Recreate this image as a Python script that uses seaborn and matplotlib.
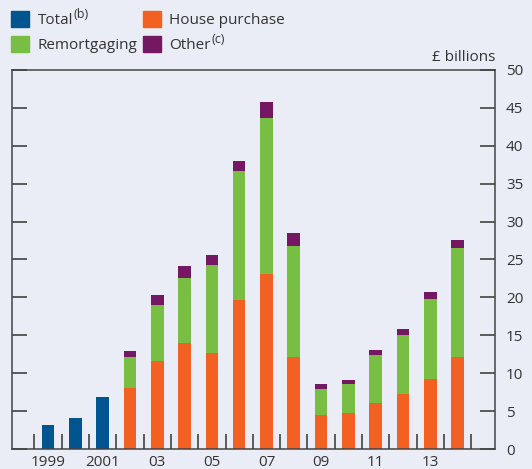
import pandas as pd
import matplotlib.pyplot as plt
import seaborn as sns
from matplotlib.patches import Patch

# Data, £ billions
total_years = [1999, 2000, 2001]
total_values = [3.2, 4.1, 6.9]

years = [2002, 2003, 2004, 2005, 2006, 2007, 2008, 2009, 2010, 2011, 2012, 2013, 2014]
house_purchase = [8.0, 11.6, 14.0, 12.6, 19.6, 23.1, 12.1, 4.5, 4.7, 6.1, 7.3, 9.2, 12.1]
remortgaging = [4.1, 7.4, 8.6, 11.7, 17.1, 20.6, 14.7, 3.4, 3.9, 6.3, 7.7, 10.6, 14.4]
other = [0.8, 1.3, 1.5, 1.3, 1.3, 2.1, 1.7, 0.7, 0.5, 0.7, 0.8, 0.9, 1.0]

tick_labels = ['1999', '2001', '03', '05', '07', '09', '11', '13']
label_years = [1999, 2001, 2003, 2005, 2007, 2009, 2011, 2013]

legend_labels = ['Total', 'Remortgaging', 'House purchase', 'Other']
legend_notes = ['(b)', '', '', '(c)']

blue = '#00558F'
orange = '#F26122'
green = '#78BE43'
purple = '#751864'
bg = '#EAEDF6'
txt = '#333333'

df = pd.DataFrame({'Year': years, 'House': house_purchase,
                   'Remort': remortgaging, 'Other': other})
df['HouseRemort'] = df['House'] + df['Remort']
df['All'] = df['HouseRemort'] + df['Other']
tot = pd.DataFrame({'Year': total_years, 'Total': total_values})

sns.set_style('ticks')
plt.rcParams['font.family'] = ['Open Sans', 'DejaVu Sans']

fig = plt.figure(figsize=(5.32, 4.69), dpi=100, facecolor=bg)
ax = fig.add_axes([0.0226, 0.0426, 0.9078, 0.8084])
ax.set_facecolor(bg)

w = 0.46
bar_kw = dict(width=w, native_scale=True, saturation=1, linewidth=0, ax=ax)
sns.barplot(data=tot, x='Year', y='Total', color=blue, **bar_kw)
sns.barplot(data=df, x='Year', y='All', color=purple, **bar_kw)
sns.barplot(data=df, x='Year', y='HouseRemort', color=green, **bar_kw)
sns.barplot(data=df, x='Year', y='House', color=orange, **bar_kw)

ax.set_xlim(1997.68, 2015.37)
ax.set_ylim(0, 50)
ax.set_xlabel('')
ax.set_ylabel('')

# x axis: labels at odd years, tick marks between bars
ax.set_xticks(label_years)
ax.set_xticklabels(tick_labels)
ax.set_xticks([y + 0.5 for y in range(1998, 2015)], minor=True)
ax.tick_params(axis='x', which='major', length=0, pad=4, labelsize=11, colors=txt)
ax.tick_params(axis='x', which='minor', length=11, width=1.1, direction='in', color=txt)

# y axis: labels on right, ticks inward on both sides
ax.set_yticks(range(0, 51, 5))
ax.yaxis.tick_right()
ax.tick_params(axis='y', which='major', left=True, right=True, labelleft=False,
               labelright=True, direction='in', length=11, width=1.1,
               pad=8, labelsize=11, color=txt, labelcolor=txt)

for s in ax.spines.values():
    s.set_visible(True)
    s.set_color('#444444')
    s.set_linewidth(1.1)

ax.text(1.0, 1.012, '£ billions', transform=ax.transAxes, ha='right', va='bottom',
        fontsize=11, color=txt)

colors = [blue, green, orange, purple]
handles = [Patch(color=c, label=l) for c, l in zip(colors, legend_labels)]
leg = fig.legend(handles=handles, ncol=2, loc='upper left',
                 bbox_to_anchor=(0.02, 0.976), frameon=False, fontsize=11,
                 handlelength=1.2, handleheight=1.2, handletextpad=0.55,
                 columnspacing=0.35, labelspacing=0.5, borderaxespad=0,
                 borderpad=0)
for t in leg.get_texts():
    t.set_color(txt)

# superscript notes after legend labels
fig.canvas.draw()
inv = fig.transFigure.inverted()
for t, note in zip(leg.get_texts(), legend_notes):
    if note:
        bb = t.get_window_extent()
        x0, y1 = inv.transform((bb.x1 + 1, bb.y1 + 5))
        fig.text(x0, y1, note, fontsize=9, color=txt, ha='left', va='top')

fig.savefig('out.png', dpi=100, facecolor=bg)
